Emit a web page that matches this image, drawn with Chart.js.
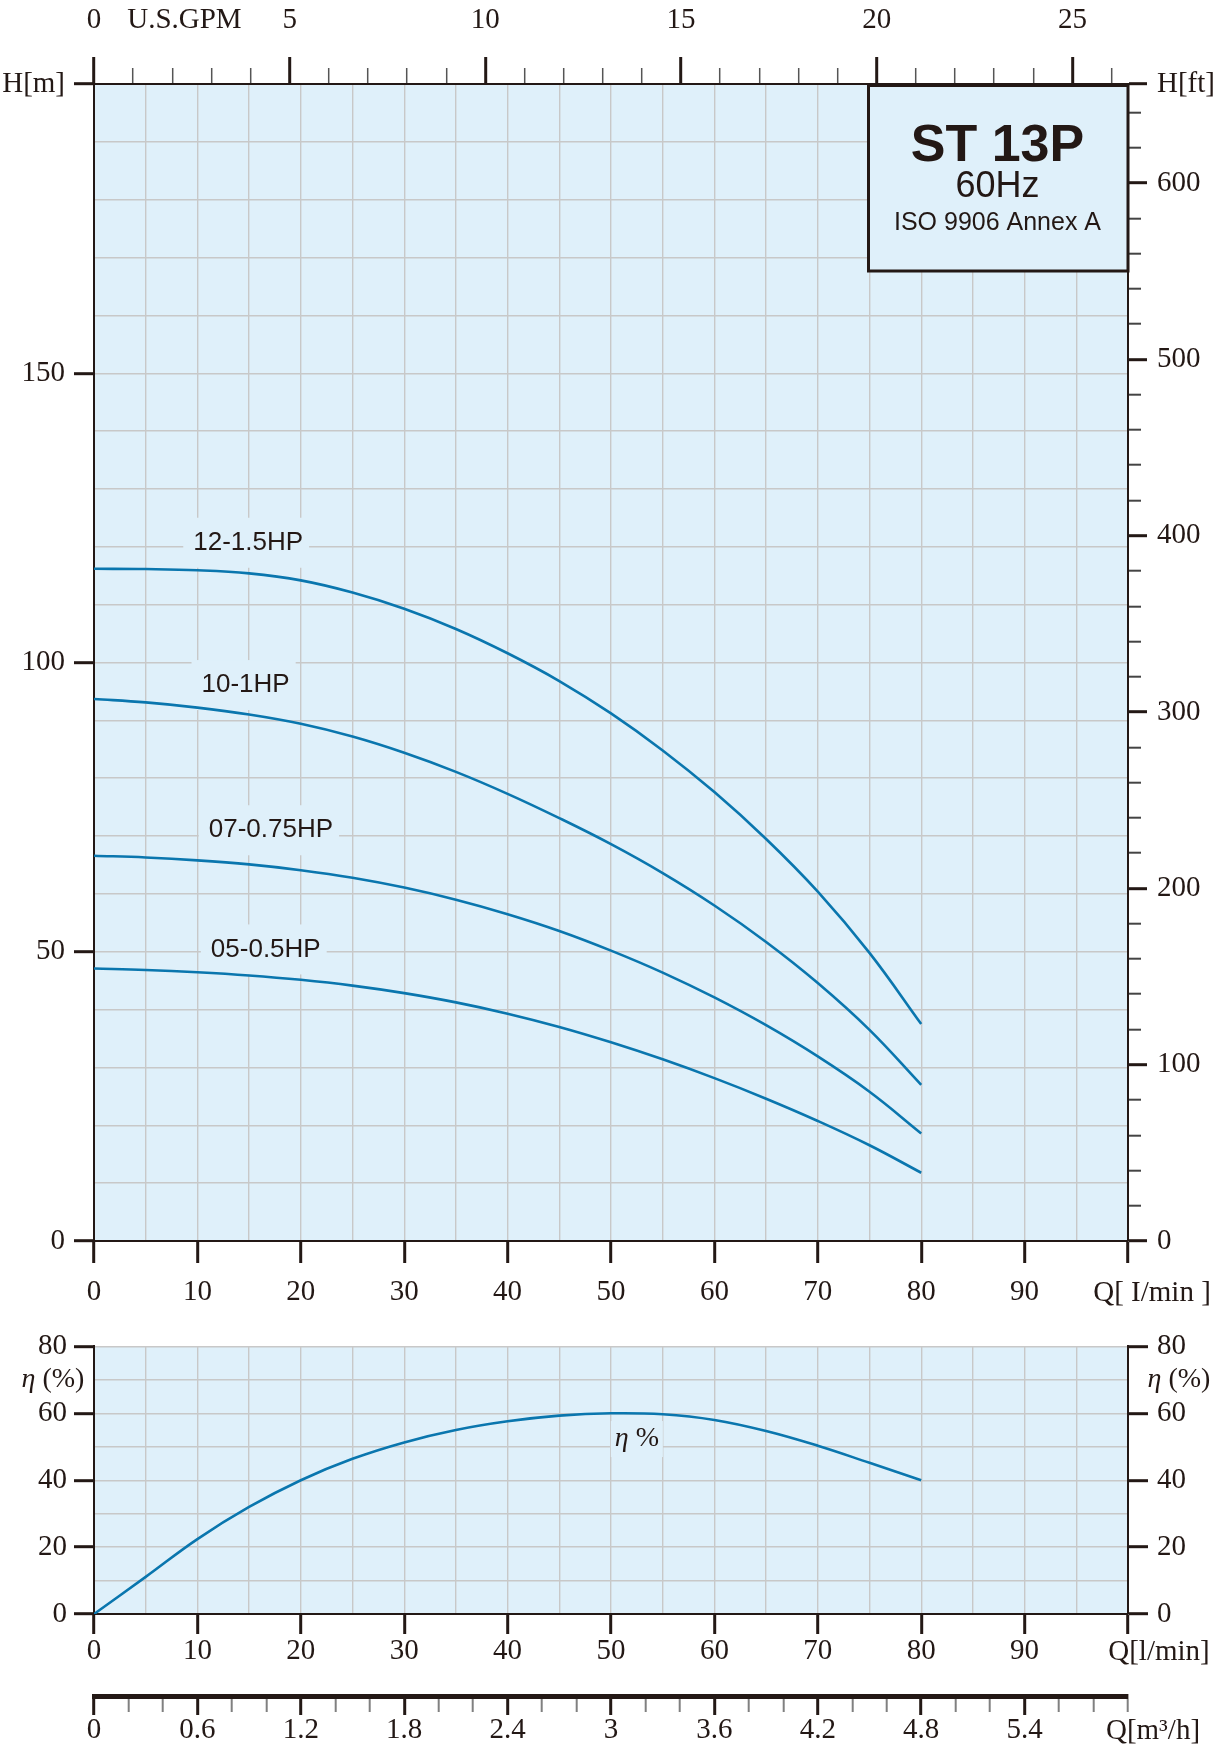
<!DOCTYPE html>
<html>
<head>
<meta charset="utf-8">
<script src="https://cdn.jsdelivr.net/npm/chart.js@4.4.1/dist/chart.umd.min.js"></script>
<style>
  html, body { margin: 0; padding: 0; background: #fff; overflow: hidden; }
  #headChart { position: absolute; left: 0; top: 0; }
  #effChart { position: absolute; left: 0; top: 1320px; }
</style>
</head>
<body>
<canvas id="headChart" width="1226" height="1320"></canvas>
<canvas id="effChart" width="1226" height="428"></canvas>
<script>
// flow points (l/min) the curves were read at
var flowLpm = [0, 5, 10, 15, 20, 25, 30, 35, 40, 45, 50, 55, 60, 65, 70, 75, 80];
// head (m) per model
var head12 = [116.2, 116.15, 115.95, 115.4, 114.2, 112.1, 109.3, 105.8, 101.6, 96.8, 91.2, 84.8, 77.6, 69.5, 60.4, 49.8, 37.5];
var head10 = [93.7, 93.1, 92.2, 91.0, 89.4, 87.2, 84.4, 81.1, 77.3, 73.1, 68.6, 63.6, 58.0, 51.7, 44.6, 36.5, 27.0];
var head07 = [66.6, 66.3, 65.8, 65.1, 64.1, 62.8, 61.1, 59.0, 56.5, 53.6, 50.2, 46.4, 42.1, 37.3, 31.9, 25.8, 18.6];
var head05 = [47.1, 46.85, 46.45, 45.9, 45.15, 44.15, 42.85, 41.25, 39.3, 37.0, 34.35, 31.4, 28.15, 24.6, 20.75, 16.55, 11.8];
// efficiency (%)
var effPct = [0, 11.1, 22.4, 32.0, 40.0, 46.4, 51.3, 55.0, 57.6, 59.3, 60.0, 59.7, 58.0, 54.7, 50.3, 45.2, 40.0];
var modelNames = ['12-1.5HP', '10-1HP', '07-0.75HP', '05-0.5HP'];

// tick labels
var lpmTicks = [0, 10, 20, 30, 40, 50, 60, 70, 80, 90];
var headTicksM = [0, 50, 100, 150];
var headTicksFt = [0, 100, 200, 300, 400, 500, 600];
var gpmTicks = [0, 5, 10, 15, 20, 25];
var effTicks = [0, 20, 40, 60, 80];
var m3hTicks = ['0', '0.6', '1.2', '1.8', '2.4', '3', '3.6', '4.2', '4.8', '5.4'];

var INK = '#231815';
var PANE = '#dff0fa';
var GRID = '#c8c8c8';
var CURVE = '#0a76ae';
var SERIF = '"Liberation Serif", "Times New Roman", serif';
var SANS = '"Liberation Sans", Arial, sans-serif';

var FT_MAX = 200 / 0.3048;
var GPM_MAX = 100 / 3.785;
var GPM_TITLE_AT = 2.31;

Chart.defaults.font.family = SERIF;
Chart.defaults.font.size = 29;
Chart.defaults.color = INK;

function steps(a, b, d) {
  var out = [];
  for (var k = 0; a + k * d <= b + 1e-9; k++) out.push(Math.round((a + k * d) * 1000) / 1000);
  return out;
}
function isMult(v, d) { var r = v / d; return Math.abs(r - Math.round(r)) < 1e-6; }
function near(a, b) { return Math.abs(a - b) < 1e-6; }

// linear axis with an explicit tick list, fixed box size and major/minor tick marks
function axis(s) {
  function kind(c) { return c.tick ? s.kind(c.tick.value) : 'none'; }
  return {
    type: 'linear', position: s.position, min: s.min, max: s.max, weight: s.weight || 0,
    afterBuildTicks: function (sc) { sc.ticks = s.values.map(function (v) { return { value: v }; }); },
    afterFit: function (sc) { if (sc.isHorizontal()) sc.height = s.size; else sc.width = s.size; },
    border: { display: true, color: INK, width: s.borderWidth || 2 },
    grid: {
      drawOnChartArea: !!s.grid,
      color: GRID,
      lineWidth: 1.4,
      tickLength: s.tickLength,
      tickColor: function (c) { return kind(c) === 'major' ? INK : (s.minorColor || '#444'); },
      tickWidth: function (c) { var k = kind(c); return k === 'major' ? 3 : k === 'minor' ? (s.minorWidth || 1.6) : 0; },
      tickBorderDash: function (c) { return kind(c) === 'minor' ? (s.minorDash || []) : []; }
    },
    ticks: {
      autoSkip: false, maxRotation: 0, minRotation: 0, padding: s.padding, color: INK,
      callback: function (v) { return s.label(v); }
    }
  };
}

function curve(values) {
  return {
    data: flowLpm.map(function (q, i) { return { x: q, y: values[i] }; }),
    showLine: true, borderColor: CURVE, borderWidth: 2.6, pointRadius: 0, fill: false,
    tension: 0.4, xAxisID: 'x', yAxisID: 'y'
  };
}

function fillPane(c) {
  var a = c.chartArea, ctx = c.ctx;
  ctx.save();
  ctx.fillStyle = PANE;
  ctx.fillRect(a.left, a.top, a.right - a.left, a.bottom - a.top);
  ctx.restore();
}

function text(ctx, str, x, y, font, align) {
  ctx.font = font;
  ctx.textAlign = align || 'center';
  ctx.textBaseline = 'middle';
  ctx.fillStyle = INK;
  ctx.fillText(str, x, y);
}

// "η" in italic followed by upright rest, centred on x
function etaText(ctx, rest, x, y, size) {
  var fi = 'italic ' + size + 'px ' + SERIF, fr = size + 'px ' + SERIF;
  ctx.font = fi; var w1 = ctx.measureText('\u03b7').width;
  ctx.font = fr; var w2 = ctx.measureText(rest).width;
  var x0 = x - (w1 + w2) / 2;
  ctx.textAlign = 'left'; ctx.textBaseline = 'middle'; ctx.fillStyle = INK;
  ctx.font = fi; ctx.fillText('\u03b7', x0, y);
  ctx.font = fr; ctx.fillText(rest, x0 + w1, y);
  return w1 + w2;
}

var headDecor = {
  id: 'headDecor',
  beforeDraw: fillPane,
  beforeDatasetsDraw: function (c) {
    var ctx = c.ctx, x = c.scales.x, y = c.scales.y;
    var at = [[9.6, 120.7], [10.4, 96.1], [11.1, 71.0], [11.3, 50.4]];
    ctx.save();
    ctx.font = '26px ' + SANS;
    modelNames.forEach(function (name, i) {
      var px = x.getPixelForValue(at[i][0]), py = y.getPixelForValue(at[i][1]);
      var w = ctx.measureText(name).width;
      ctx.fillStyle = PANE;
      ctx.fillRect(px - 10, py - 25, w + 16, 50);
      text(ctx, name, px, py, '26px ' + SANS, 'left');
    });
    ctx.restore();
  },
  afterDatasetsDraw: function (c) {
    var ctx = c.ctx, a = c.chartArea;
    var bw = 261, bh = 187, bx = a.right - bw, by = a.top;
    ctx.save();
    ctx.fillStyle = PANE;
    ctx.fillRect(bx, by, bw, bh);
    ctx.lineWidth = 3;
    ctx.strokeStyle = INK;
    ctx.strokeRect(bx + 1.5, by + 1.5, bw - 1.5, bh - 1.5);
    var cx = bx + bw / 2;
    text(ctx, 'ST 13P', cx, by + 63, 'bold 52px ' + SANS);
    text(ctx, '60Hz', cx, by + 103, '36px ' + SANS);
    text(ctx, 'ISO 9906 Annex A', cx, by + 139, '25px ' + SANS);
    text(ctx, 'Q[ I/min ]', a.right + 24, c.scales.x.top + 52, '29px ' + SERIF);
    ctx.restore();
  }
};

var effDecor = {
  id: 'effDecor',
  beforeDraw: fillPane,
  beforeDatasetsDraw: function (c) {
    var ctx = c.ctx, px = c.scales.x.getPixelForValue(52.5), py = c.scales.y.getPixelForValue(52.3);
    ctx.save();
    ctx.fillStyle = PANE;
    ctx.fillRect(px - 26, py - 18, 52, 36);
    etaText(ctx, ' %', px, py, 28);
    ctx.restore();
  },
  afterDraw: function (c) {
    var ctx = c.ctx, a = c.chartArea, yl = c.scales.y.getPixelForValue(70);
    ctx.save();
    etaText(ctx, ' (%)', a.left - 41, yl, 28);
    etaText(ctx, ' (%)', a.right + 51, yl, 28);
    text(ctx, 'Q[l/min]', a.right + 31, a.bottom + 38, '29px ' + SERIF);
    text(ctx, 'Q[m\u00b3/h]', a.right + 25, c.scales.x2.top + 35, '29px ' + SERIF);
    ctx.restore();
  }
};

var common = {
  responsive: false, animation: false, events: [],
  plugins: { legend: { display: false }, tooltip: { enabled: false } }
};

new Chart(document.getElementById('headChart'), {
  type: 'scatter',
  data: { datasets: [curve(head12), curve(head10), curve(head07), curve(head05)] },
  options: Object.assign({}, common, {
    layout: { padding: 0 },
    scales: {
      x: axis({
        position: 'bottom', min: 0, max: 100, size: 79, grid: true, tickLength: 22, padding: 12,
        values: steps(0, 100, 5),
        kind: function (v) { return isMult(v, 10) ? 'major' : 'none'; },
        label: function (v) { return lpmTicks.indexOf(v) >= 0 ? String(v) : ''; }
      }),
      xg: axis({
        position: 'top', min: 0, max: GPM_MAX, size: 84, tickLength: 27, padding: 19,
        minorDash: [0, 11, 16, 100], minorWidth: 1.5, minorColor: '#555',
        values: steps(0, 26, 1).concat([GPM_TITLE_AT]).sort(function (p, q) { return p - q; }),
        kind: function (v) { return near(v, GPM_TITLE_AT) ? 'none' : isMult(v, 5) ? 'major' : 'minor'; },
        label: function (v) { return near(v, GPM_TITLE_AT) ? 'U.S.GPM' : gpmTicks.indexOf(v) >= 0 ? String(v) : ''; }
      }),
      y: axis({
        position: 'left', min: 0, max: 200, size: 94, grid: true, tickLength: 20, padding: 9,
        values: steps(0, 200, 10),
        kind: function (v) { return (v === 200 || headTicksM.indexOf(v) >= 0) ? 'major' : 'none'; },
        label: function (v) { return v === 200 ? 'H[m]' : headTicksM.indexOf(v) >= 0 ? String(v) : ''; }
      }),
      yf: axis({
        position: 'right', min: 0, max: FT_MAX, size: 98, tickLength: 19, padding: 10,
        minorDash: [12, 100], minorWidth: 2, minorColor: '#444',
        values: steps(0, 640, 20).concat([FT_MAX]),
        kind: function (v) { return (near(v, FT_MAX) || isMult(v, 100)) ? 'major' : 'minor'; },
        label: function (v) { return near(v, FT_MAX) ? 'H[ft]' : headTicksFt.indexOf(v) >= 0 ? String(v) : ''; }
      })
    }
  }),
  plugins: [headDecor]
});

new Chart(document.getElementById('effChart'), {
  type: 'scatter',
  data: { datasets: [curve(effPct)] },
  options: Object.assign({}, common, {
    layout: { padding: { top: 22 } },
    scales: {
      x: axis({
        position: 'bottom', min: 0, max: 100, size: 82, grid: true, tickLength: 20, padding: 0, weight: 0,
        values: steps(0, 100, 5),
        kind: function (v) { return isMult(v, 10) ? 'major' : 'none'; },
        label: function (v) { return lpmTicks.indexOf(v) >= 0 ? String(v) : ''; }
      }),
      x2: axis({
        position: 'bottom', min: 0, max: 6, size: 52, tickLength: 19, padding: -2, weight: 1, borderWidth: 5,
        minorDash: [13, 100], minorWidth: 2, minorColor: '#808080',
        values: steps(0, 6, 0.2),
        kind: function (v) { return (isMult(v, 0.6) && v < 5.9) ? 'major' : 'minor'; },
        label: function (v) { return (isMult(v, 0.6) && v < 5.9) ? m3hTicks[Math.round(v / 0.6)] : ''; }
      }),
      y: axis({
        position: 'left', min: 0, max: 80, size: 94, grid: true, tickLength: 20, padding: 7,
        values: steps(0, 80, 10),
        kind: function (v) { return effTicks.indexOf(v) >= 0 ? 'major' : 'none'; },
        label: function (v) { return effTicks.indexOf(v) >= 0 ? String(v) : ''; }
      }),
      yr: axis({
        position: 'right', min: 0, max: 80, size: 98, tickLength: 20, padding: 9,
        values: steps(0, 80, 10),
        kind: function (v) { return effTicks.indexOf(v) >= 0 ? 'major' : 'none'; },
        label: function (v) { return effTicks.indexOf(v) >= 0 ? String(v) : ''; }
      })
    }
  }),
  plugins: [effDecor]
});
</script>
</body>
</html>
